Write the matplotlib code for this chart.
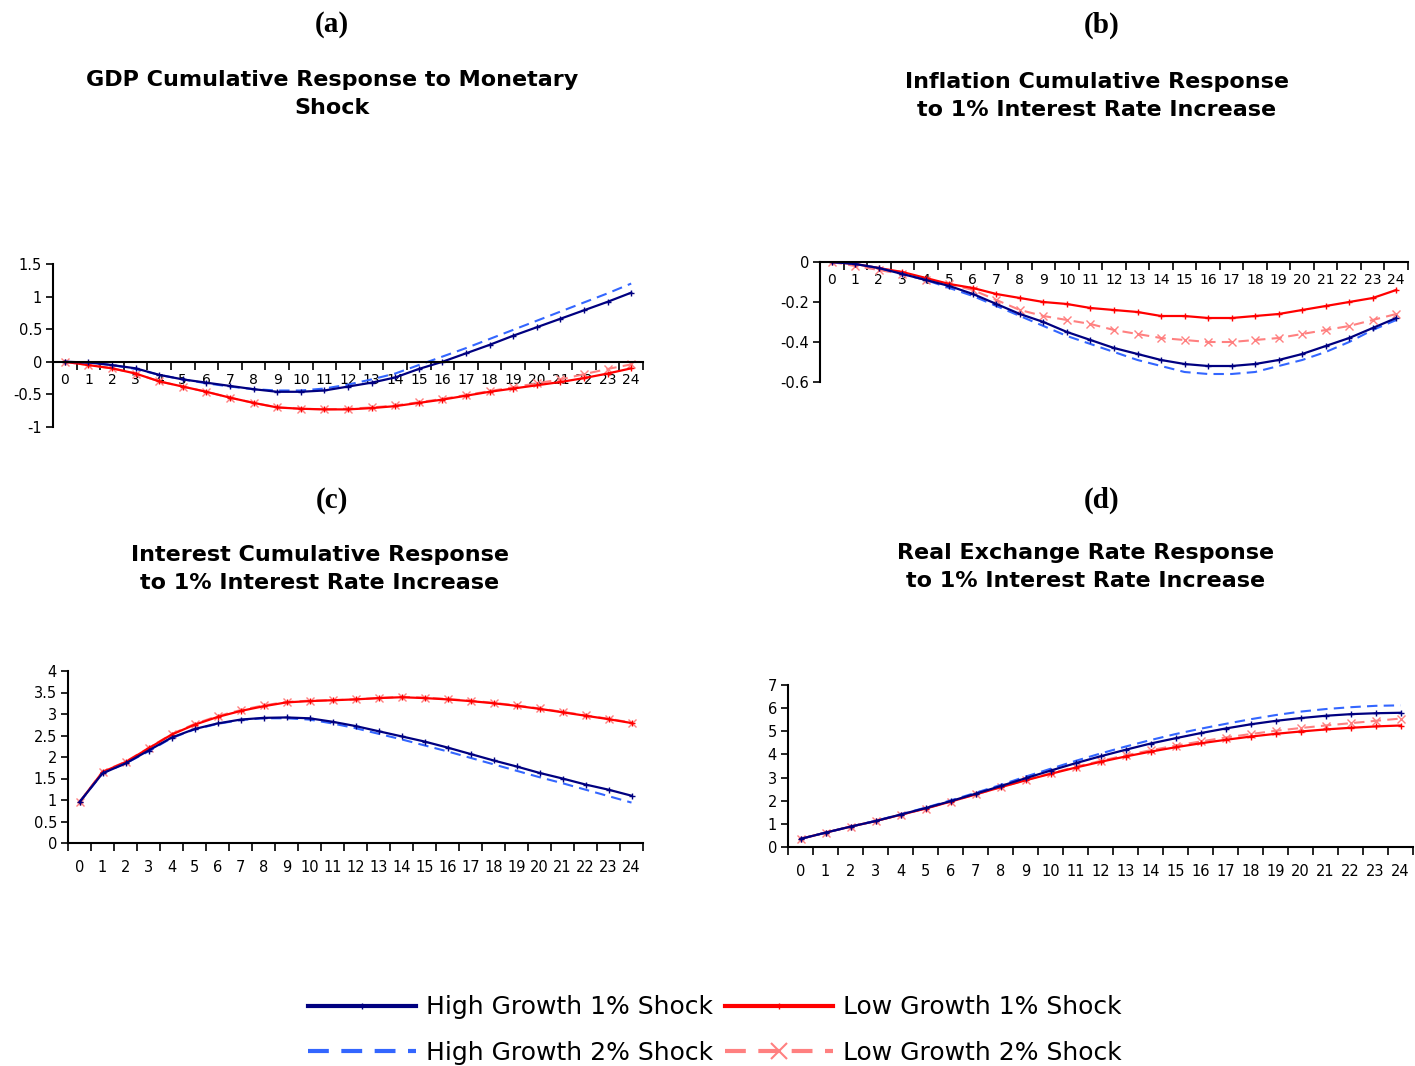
import matplotlib
matplotlib.use("Agg")
import matplotlib.pyplot as plt
from matplotlib.lines import Line2D
import numpy as np

# ── data ──────────────────────────────────────────────────────────────
periods = list(range(25))

gdp_high_1 = [0.00, -0.01, -0.05, -0.10, -0.20, -0.27, -0.32, -0.37, -0.42, -0.46, -0.46, -0.44, -0.38,
              -0.32, -0.24, -0.11, 0.00, 0.13, 0.26, 0.40, 0.53, 0.66, 0.79, 0.92, 1.06]
gdp_high_2 = [0.00, -0.01, -0.05, -0.11, -0.20, -0.27, -0.33, -0.38, -0.42, -0.44, -0.44, -0.41, -0.35,
              -0.27, -0.18, -0.05, 0.08, 0.21, 0.35, 0.49, 0.63, 0.77, 0.91, 1.05, 1.20]
gdp_low_1 = [0.00, -0.05, -0.10, -0.18, -0.30, -0.38, -0.46, -0.55, -0.63, -0.70, -0.72, -0.73, -0.73,
             -0.71, -0.68, -0.63, -0.58, -0.52, -0.46, -0.41, -0.36, -0.31, -0.25, -0.18, -0.10]
gdp_low_2 = [0.00, -0.05, -0.10, -0.18, -0.30, -0.38, -0.46, -0.55, -0.63, -0.70, -0.72, -0.73, -0.72,
             -0.70, -0.67, -0.62, -0.57, -0.51, -0.45, -0.39, -0.33, -0.27, -0.19, -0.11, -0.04]

infl_high_1 = [0.00, -0.01, -0.03, -0.06, -0.09, -0.12, -0.16, -0.21, -0.26, -0.30, -0.35, -0.39, -0.43,
               -0.46, -0.49, -0.51, -0.52, -0.52, -0.51, -0.49, -0.46, -0.42, -0.38, -0.33, -0.28]
infl_high_2 = [0.00, -0.01, -0.03, -0.06, -0.09, -0.13, -0.17, -0.22, -0.27, -0.32, -0.37, -0.41, -0.45,
               -0.49, -0.52, -0.55, -0.56, -0.56, -0.55, -0.52, -0.49, -0.45, -0.40, -0.34, -0.29]
infl_low_1 = [0.00, -0.01, -0.03, -0.05, -0.08, -0.11, -0.13, -0.16, -0.18, -0.20, -0.21, -0.23, -0.24,
              -0.25, -0.27, -0.27, -0.28, -0.28, -0.27, -0.26, -0.24, -0.22, -0.20, -0.18, -0.14]
infl_low_2 = [0.00, -0.02, -0.04, -0.06, -0.09, -0.11, -0.14, -0.19, -0.24, -0.27, -0.29, -0.31, -0.34,
              -0.36, -0.38, -0.39, -0.40, -0.40, -0.39, -0.38, -0.36, -0.34, -0.32, -0.29, -0.26]

rate_high_1 = [0.95, 1.62, 1.85, 2.15, 2.45, 2.65, 2.78, 2.87, 2.91, 2.92, 2.90, 2.82, 2.72,
               2.60, 2.48, 2.36, 2.22, 2.07, 1.92, 1.78, 1.63, 1.50, 1.36, 1.24, 1.10]
rate_high_2 = [0.95, 1.62, 1.85, 2.13, 2.44, 2.64, 2.77, 2.86, 2.90, 2.90, 2.87, 2.78, 2.67,
               2.54, 2.41, 2.27, 2.13, 1.98, 1.83, 1.68, 1.53, 1.39, 1.24, 1.09, 0.94]
rate_low_1 = [0.95, 1.65, 1.88, 2.20, 2.52, 2.75, 2.93, 3.07, 3.18, 3.27, 3.30, 3.32, 3.34,
              3.37, 3.39, 3.37, 3.34, 3.30, 3.25, 3.19, 3.12, 3.04, 2.96, 2.88, 2.79]
rate_low_2 = [0.95, 1.66, 1.89, 2.21, 2.53, 2.77, 2.95, 3.09, 3.20, 3.28, 3.31, 3.32, 3.34,
              3.37, 3.40, 3.38, 3.35, 3.31, 3.26, 3.20, 3.13, 3.05, 2.97, 2.89, 2.80]

rer_high_1 = [0.35, 0.62, 0.88, 1.12, 1.40, 1.68, 1.98, 2.30, 2.63, 2.97, 3.30, 3.62, 3.92,
              4.20, 4.47, 4.70, 4.92, 5.12, 5.30, 5.45, 5.57, 5.67, 5.74, 5.78, 5.80]
rer_high_2 = [0.35, 0.62, 0.88, 1.13, 1.41, 1.70, 2.01, 2.34, 2.68, 3.04, 3.38, 3.72, 4.04,
              4.34, 4.62, 4.88, 5.11, 5.32, 5.52, 5.70, 5.85, 5.96, 6.04, 6.10, 6.12]
rer_low_1 = [0.35, 0.62, 0.88, 1.12, 1.39, 1.66, 1.96, 2.27, 2.58, 2.88, 3.16, 3.43, 3.68,
             3.91, 4.12, 4.31, 4.48, 4.63, 4.77, 4.89, 4.99, 5.08, 5.15, 5.21, 5.25]
rer_low_2 = [0.35, 0.62, 0.88, 1.12, 1.39, 1.66, 1.96, 2.27, 2.58, 2.89, 3.18, 3.46, 3.72,
             3.96, 4.18, 4.38, 4.56, 4.73, 4.88, 5.02, 5.14, 5.25, 5.35, 5.45, 5.55]

series_names = ["High Growth 1% Shock", "High Growth 2% Shock",
                "Low Growth 1% Shock", "Low Growth 2% Shock"]

# ── styling ───────────────────────────────────────────────────────────
STYLE = {
    "High Growth 1% Shock": dict(color="#000080", lw=1.6, ls="-", marker="+", ms=4, mew=1.0),
    "High Growth 2% Shock": dict(color="#3366FF", lw=1.5, ls=(0, (5, 3)), marker=None),
    "Low Growth 1% Shock": dict(color="#FF0000", lw=1.6, ls="-", marker="+", ms=4, mew=1.0),
    "Low Growth 2% Shock": dict(color="#FF8080", lw=1.5, ls=(0, (5, 3)), marker="x", ms=6, mew=1.0),
}
DRAW_ORDER = ["Low Growth 2% Shock", "Low Growth 1% Shock",
              "High Growth 2% Shock", "High Growth 1% Shock"]

SANS = "DejaVu Sans"
SERIF = "Liberation Serif"
plt.rcParams["font.family"] = SANS

fig = plt.figure(figsize=(14.15, 10.66), dpi=100)


def draw_panel(rect, data, yticks, cross_zero, xlabel_pad):
    ax = fig.add_axes(rect)
    by_name = dict(zip(series_names, data))
    for name in DRAW_ORDER:
        ax.plot(periods, by_name[name], **STYLE[name])
    ax.set_xlim(-0.5, 24.5)
    ax.set_ylim(yticks[0], yticks[-1])
    ax.set_yticks(yticks)
    ax.set_yticklabels([f"{v:g}" for v in yticks], fontsize=10.5)
    # tick marks between categories, labels at category centres
    ax.set_xticks(np.arange(-0.5, 25, 1))
    ax.set_xticklabels([])
    ax.set_xticks(periods, minor=True)
    ax.set_xticklabels([str(p) for p in periods], minor=True, fontsize=10.5)
    ax.tick_params(axis="x", which="major", direction="out", length=6, width=1.2)
    ax.tick_params(axis="x", which="minor", length=0, pad=xlabel_pad)
    ax.tick_params(axis="y", direction="out", length=5, width=1.2, pad=3)
    for side in ("top", "right"):
        ax.spines[side].set_visible(False)
    for side in ("left", "bottom"):
        ax.spines[side].set_linewidth(1.5)
    if cross_zero:
        ax.spines["bottom"].set_position(("data", 0))
    return ax


W, H = 1415, 1066


def rect(x0, x1, ytop, ybot):
    return [x0 / W, 1 - ybot / H, (x1 - x0) / W, (ybot - ytop) / H]


draw_panel(rect(53, 643, 264, 427), [gdp_high_1, gdp_high_2, gdp_low_1, gdp_low_2],
           [-1, -0.5, 0, 0.5, 1, 1.5], True, 8)
draw_panel(rect(820, 1408, 262, 382), [infl_high_1, infl_high_2, infl_low_1, infl_low_2],
           [-0.6, -0.4, -0.2, 0], True, 8)
draw_panel(rect(68, 643, 671, 843), [rate_high_1, rate_high_2, rate_low_1, rate_low_2],
           list(np.arange(0, 4.01, 0.5)), False, 12)
draw_panel(rect(788, 1413, 685, 847), [rer_high_1, rer_high_2, rer_low_1, rer_low_2],
           list(range(0, 8)), False, 12)

# ── titles ────────────────────────────────────────────────────────────
panel_titles = [
    ("(a)", "GDP Cumulative Response to Monetary\nShock", 332, 332, 25, 94),
    ("(b)", "Inflation Cumulative Response\nto 1% Interest Rate Increase", 1102, 1097, 25, 96),
    ("(c)", "Interest Cumulative Response\nto 1% Interest Rate Increase", 332, 320, 500, 569),
    ("(d)", "Real Exchange Rate Response\nto 1% Interest Rate Increase", 1102, 1086, 500, 567),
]
for tag, title, xtag, xtitle, ytag, ytitle in panel_titles:
    fig.text(xtag / W, 1 - ytag / H, tag, ha="center", va="center",
             family=SERIF, fontweight="bold", fontsize=21)
    fig.text(xtitle / W, 1 - ytitle / H, title, ha="center", va="center",
             family=SANS, fontweight="bold", fontsize=16, linespacing=1.45)

# ── legend ────────────────────────────────────────────────────────────
handles = []
for name in series_names:
    st = dict(STYLE[name])
    st["lw"] = 3.0
    if st.get("marker") == "x":
        st["ms"] = 12
        st["mew"] = 1.5
    handles.append(Line2D([], [], **st))
fig.legend(handles, series_names, loc="center", ncol=2,
           bbox_to_anchor=(715 / W, 1 - 1030 / H), frameon=False,
           fontsize=18, handlelength=4.3, handletextpad=0.4,
           columnspacing=0.5, labelspacing=0.85, numpoints=1)

fig.savefig("out.png", dpi=100)
